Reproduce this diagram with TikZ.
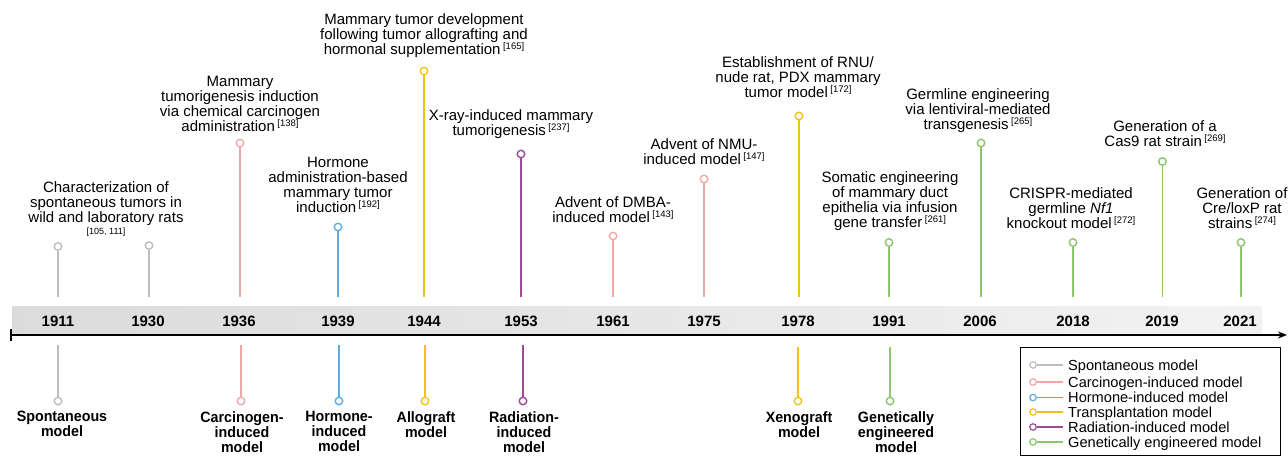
\documentclass[tikz,border=0pt]{standalone}
\usepackage{fontspec}
\setmainfont{Liberation Sans}
\newfontfamily\narrowsans[FakeStretch=0.95]{Liberation Sans}
\usetikzlibrary{arrows.meta,shadings}

\definecolor{cgray}{HTML}{BDBDBD}
\definecolor{cpink}{HTML}{F2A7A7}
\definecolor{cblue}{HTML}{5DADE2}
\definecolor{cyellow}{HTML}{F0C316}
\definecolor{cpurple}{HTML}{9C4A9A}
\definecolor{cgreen}{HTML}{8CC66E}

\newcommand\rf[1]{\,\raisebox{5pt}{\fontsize{9.5}{9.5}\selectfont[#1]}}

\begin{document}
\begin{tikzpicture}[x=1pt, y=-1pt,
        dot/.style={circle, draw=#1, fill=white, line width=1.4pt, inner sep=0pt, minimum size=7.5pt},
        ldot/.style={circle, draw=#1, fill=white, line width=1.2pt, inner sep=0pt, minimum size=6.5pt},
        stem/.style={draw=#1, line width=1.8pt},
        evt/.style={align=center, inner sep=0pt, anchor=north, font=\fontsize{15}{15}\selectfont},
        mdl/.style={align=center, inner sep=0pt, anchor=north, font=\narrowsans\bfseries\fontsize{15}{15}\selectfont},
        yr/.style={inner sep=0pt, font=\bfseries\fontsize{15}{15}\selectfont},
        lgd/.style={inner sep=0pt, anchor=base west, font=\fontsize{14.6}{15}\selectfont}]
        \useasboundingbox (0,0) rectangle (1288,456);

        % timeline bar
        \shade[left color=gray!28, right color=gray!10] (12,306) rectangle (1262,335);
        \coordinate (axl) at (11,335);
        \coordinate (axr) at (1287,335);
        \draw[line width=1.5pt, -{Stealth[length=9pt, width=7pt]}] (axl) -- (axr);
        \draw[line width=1.5pt] (11,329) -- (11,341);

        % years
        \node[yr] (y1911) at (58,321) {1911};
        \node[yr] (y1930) at (148,321) {1930};
        \node[yr] (y1936) at (239,321) {1936};
        \node[yr] (y1939) at (338,321) {1939};
        \node[yr] (y1944) at (424,321) {1944};
        \node[yr] (y1953) at (521,321) {1953};
        \node[yr] (y1961) at (613,321) {1961};
        \node[yr] (y1975) at (704,321) {1975};
        \node[yr] (y1978) at (798,321) {1978};
        \node[yr] (y1991) at (889,321) {1991};
        \node[yr] (y2006) at (980,321) {2006};
        \node[yr] (y2018) at (1073,321) {2018};
        \node[yr] (y2019) at (1162,321) {2019};
        \node[yr] (y2021) at (1240,321) {2021};

        % upper stems
        \node[dot=cgray] (p1911) at (58,246.5) {};
        \node[dot=cgray] (p1930) at (149,245.5) {};
        \node[dot=cpink] (p1936) at (240,143) {};
        \node[dot=cblue] (p1939) at (338,227) {};
        \node[dot=cyellow] (p1944) at (424,71) {};
        \node[dot=cpurple] (p1953) at (521,154) {};
        \node[dot=cpink] (p1961) at (613,236) {};
        \node[dot=cpink] (p1975) at (704,179) {};
        \node[dot=cyellow] (p1978) at (799,116) {};
        \node[dot=cgreen] (p1991) at (889,242.5) {};
        \node[dot=cgreen] (p2006) at (981,143) {};
        \node[dot=cgreen] (p2018) at (1073,242.5) {};
        \node[dot=cgreen] (p2019) at (1162.5,161.5) {};
        \node[dot=cgreen] (p2021) at (1241,242.5) {};

        \draw[stem=cgray] (p1911) -- (58,297);
        \draw[stem=cgray] (p1930) -- (149,297);
        \draw[stem=cpink] (p1936) -- (240,297);
        \draw[stem=cblue] (p1939) -- (338,297);
        \draw[stem=cyellow] (p1944) -- (424,297);
        \draw[stem=cpurple] (p1953) -- (521,297);
        \draw[stem=cpink] (p1961) -- (613,297);
        \draw[stem=cpink] (p1975) -- (704,297);
        \draw[stem=cyellow] (p1978) -- (799,297);
        \draw[stem=cgreen] (p1991) -- (889,297);
        \draw[stem=cgreen] (p2006) -- (981,297);
        \draw[stem=cgreen] (p2018) -- (1073,297);
        \draw[stem=cgreen] (p2019) -- (1162.5,297);
        \draw[stem=cgreen] (p2021) -- (1241,297);

        % events
        \node[evt] (t1911) at (106,181) {Characterization of\\spontaneous tumors in\\wild and laboratory rats\\[-3pt]{\fontsize{9}{9}\selectfont[105, 111]}};
        \node[evt] (t1936) at (240,76) {Mammary\\tumorigenesis induction\\via chemical carcinogen\\administration\rf{138}};
        \node[evt] (t1939) at (338,157) {Hormone\\administration-based\\mammary tumor\\induction\rf{192}};
        \node[evt] (t1944) at (424,13) {Mammary tumor development\\following tumor allografting and\\hormonal supplementation\rf{165}};
        \node[evt] (t1953) at (511,109) {X-ray-induced mammary\\tumorigenesis\rf{237}};
        \node[evt] (t1961) at (613,196) {Advent of DMBA-\\induced model\rf{143}};
        \node[evt] (t1975) at (704,138) {Advent of NMU-\\induced model\rf{147}};
        \node[evt] (t1978) at (798,56) {Establishment of RNU/\\nude rat, PDX mammary\\tumor model\rf{172}};
        \node[evt] (t1991) at (890,171) {Somatic engineering\\of mammary duct\\epithelia via infusion\\gene transfer\rf{261}};
        \node[evt] (t2006) at (978,88) {Germline engineering\\via lentiviral-mediated\\transgenesis\rf{265}};
        \node[evt] (t2018) at (1071,187) {CRISPR-mediated\\germline \textit{Nf1}\\knockout model\rf{272}};
        \node[evt] (t2019) at (1165,120) {Generation of a\\Cas9 rat strain\rf{269}};
        \node[evt] (t2021) at (1242,187) {Generation of\\Cre/loxP rat\\strains\rf{274}};

        % lower stems
        \node[dot=cgray] (q1911) at (58,401) {};
        \node[dot=cpink] (q1936) at (241,401) {};
        \node[dot=cblue] (q1939) at (339,401) {};
        \node[dot=cyellow] (q1944) at (425,401) {};
        \node[dot=cpurple] (q1953) at (523,401) {};
        \node[dot=cyellow] (q1978) at (798,401) {};
        \node[dot=cgreen] (q1991) at (890,401) {};

        \draw[stem=cgray] (58,345) -- (q1911);
        \draw[stem=cpink] (241,345) -- (q1936);
        \draw[stem=cblue] (339,345) -- (q1939);
        \draw[stem=cyellow] (425,345) -- (q1944);
        \draw[stem=cpurple] (523,345) -- (q1953);
        \draw[stem=cyellow] (798,347) -- (q1978);
        \draw[stem=cgreen] (890,347) -- (q1991);

        \node[mdl] (m1911) at (62,411) {Spontaneous\\model};
        \node[mdl] (m1936) at (242,411) {Carcinogen-\\induced\\model};
        \node[mdl] (m1939) at (339,411) {Hormone-\\induced\\model};
        \node[mdl] (m1944) at (426,411) {Allograft\\model};
        \node[mdl] (m1953) at (524,411) {Radiation-\\induced\\model};
        \node[mdl] (m1978) at (799,411) {Xenograft\\model};
        \node[mdl] (m1991) at (896,411) {Genetically\\engineered\\model};

        % legend
        \draw[line width=0.8pt] (1020,347) rectangle (1280,455.5);
        \node[lgd] (l1) at (1068,370) {Spontaneous model};
        \node[lgd] (l2) at (1068,387) {Carcinogen-induced model};
        \node[lgd] (l3) at (1068,402.5) {Hormone-induced model};
        \node[lgd] (l4) at (1068,417) {Transplantation model};
        \node[lgd] (l5) at (1068,432) {Radiation-induced model};
        \node[lgd] (l6) at (1068,447) {Genetically engineered model};
        \node[ldot=cgray] (c1) at (1033,365) {};
        \node[ldot=cpink] (c2) at (1033,382) {};
        \node[ldot=cblue] (c3) at (1033,397.5) {};
        \node[ldot=cyellow] (c4) at (1033,412) {};
        \node[ldot=cpurple] (c5) at (1033,427) {};
        \node[ldot=cgreen] (c6) at (1033,442) {};
        \draw[cgray, line width=1.2pt] (c1) -- (1063,365);
        \draw[cpink, line width=1.2pt] (c2) -- (1063,382);
        \draw[cblue, line width=1.2pt] (c3) -- (1063,397.5);
        \draw[cyellow, line width=1.2pt] (c4) -- (1063,412);
        \draw[cpurple, line width=1.2pt] (c5) -- (1063,427);
        \draw[cgreen, line width=1.2pt] (c6) -- (1063,442);
    \end{tikzpicture}
\end{document}
